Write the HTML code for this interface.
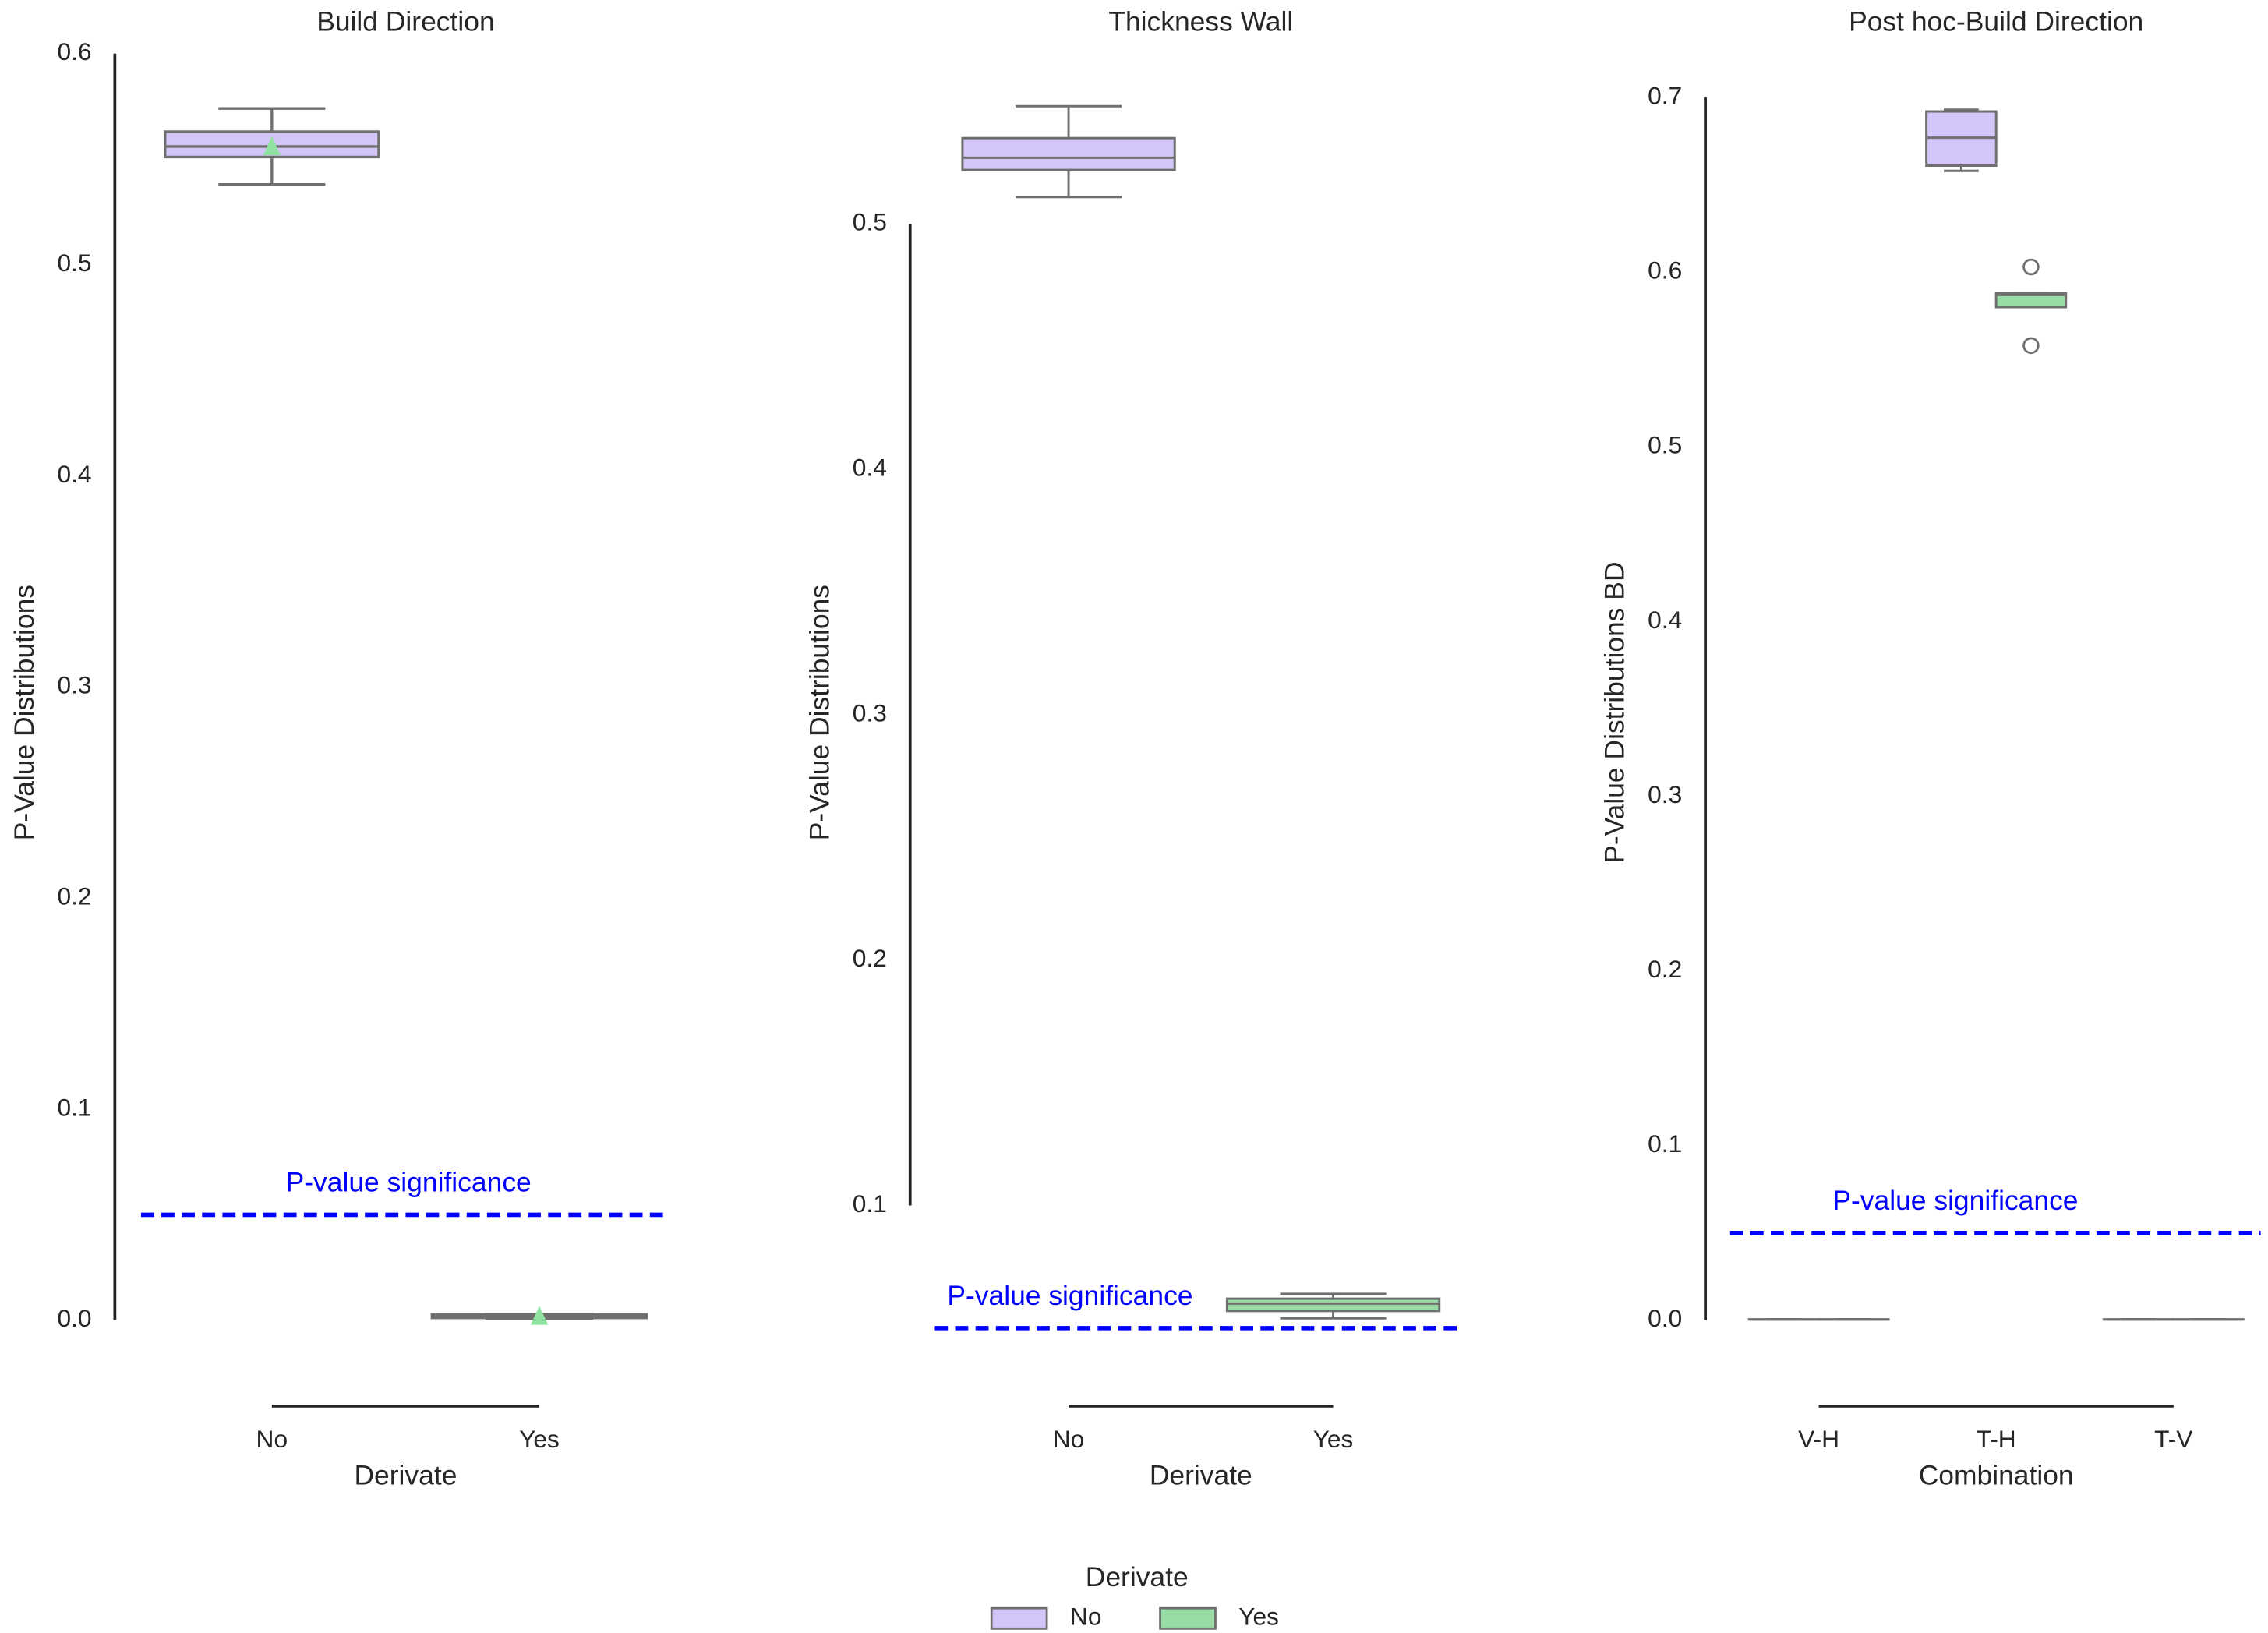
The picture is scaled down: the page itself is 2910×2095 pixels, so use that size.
<!DOCTYPE html>
<html><head><meta charset="utf-8"><style>
html,body{margin:0;padding:0;background:#fff;}
svg{display:block;font-family:"Liberation Sans",Arial,sans-serif;}
</style></head><body>
<svg id="chart" width="2910" height="2095" viewBox="0 0 1560 1123" xmlns="http://www.w3.org/2000/svg"></svg>
<script>
// ---- data ----
const panelTitles = ["Build Direction", "Thickness Wall", "Post hoc-Build Direction"];
const yTitles = ["P-Value Distributions", "P-Value Distributions", "P-Value Distributions BD"];
const xTitles = ["Derivate", "Derivate", "Combination"];
const cats12 = ["No", "Yes"];
const cats3 = ["V-H", "T-H", "T-V"];
const ticks1 = [0.0, 0.1, 0.2, 0.3, 0.4, 0.5, 0.6];
const ticks2 = [0.1, 0.2, 0.3, 0.4, 0.5];
const ticks3 = [0.0, 0.1, 0.2, 0.3, 0.4, 0.5, 0.6, 0.7];
// box stats: [whiskerLow, q1, median, q3, whiskerHigh]
const boxes1 = [[0.538, 0.551, 0.556, 0.563, 0.574], [0.0018, 0.0014, 0.0018, 0.0024, 0.0018]];
const means1 = [0.556, 0.002];
const boxes2 = [[0.511, 0.522, 0.527, 0.535, 0.548], [0.054, 0.057, 0.060, 0.062, 0.064]];
// panel 3: per category, hue No / Yes
const boxes3No = [[0.0005, 0.0005, 0.0005, 0.0005, 0.0005], [0.658, 0.661, 0.677, 0.692, 0.693], [0.0005, 0.0005, 0.0005, 0.0005, 0.0005]];
const boxes3Yes = [[0.0005, 0.0005, 0.0005, 0.0005, 0.0005], [0.580, 0.580, 0.587, 0.588, 0.588], [0.0005, 0.0005, 0.0005, 0.0005, 0.0005]];
const outliers3 = [[1, 0.603], [1, 0.558]];
const sigLevel = 0.05;
const hues = ["No", "Yes"];

const NS = "http://www.w3.org/2000/svg";
const svg = document.getElementById("chart");
const PURPLE = "#d3c5f7", GREEN = "#98dba5", GRAY = "#6f6f6f", TXT = "#262626";
function el(tag, attrs, parent) {
  const e = document.createElementNS(NS, tag);
  for (const k in attrs) e.setAttribute(k, attrs[k]);
  (parent || svg).appendChild(e);
  return e;
}
function txt(s, x, y, size, anchor, fill, rot) {
  const t = el("text", {x: x, y: y, "font-size": size, "text-anchor": anchor || "middle", fill: fill || TXT, "dominant-baseline": "middle"});
  if (rot) t.setAttribute("transform", "rotate(-90 " + x + " " + y + ")");
  t.textContent = s;
  return t;
}
function drawBox(g, cx, w, st, ys, fill, name, sw) {
  sw = sw || 1.6;
  const grp = el("g", {}, g);
  
  
  const [lo, q1, md, q3, hi] = st.map(ys);
  el("line", {x1: cx, x2: cx, y1: hi, y2: q3, stroke: GRAY, "stroke-width": sw}, grp);
  el("line", {x1: cx, x2: cx, y1: q1, y2: lo, stroke: GRAY, "stroke-width": sw}, grp);
  el("line", {x1: cx - w / 4, x2: cx + w / 4, y1: hi, y2: hi, stroke: GRAY, "stroke-width": sw}, grp);
  el("line", {x1: cx - w / 4, x2: cx + w / 4, y1: lo, y2: lo, stroke: GRAY, "stroke-width": sw}, grp);
  el("rect", {x: cx - w / 2, y: q3, width: w, height: Math.max(q1 - q3, 0.01), fill: fill, stroke: GRAY, "stroke-width": sw}, grp);
  el("line", {x1: cx - w / 2, x2: cx + w / 2, y1: md, y2: md, stroke: GRAY, "stroke-width": sw}, grp);
  return grp;
}
function panel(i, cfg) {
  const g = el("g", {});
  
  
  const ys = v => cfg.y0 - (v - cfg.v0) * cfg.k;
  const xs = j => cfg.xFirst + j * cfg.step;
  const ax = el("line", {x1: cfg.ax, x2: cfg.ax, y1: ys(cfg.ticks[cfg.ticks.length - 1]), y2: ys(cfg.ticks[0]), stroke: "#222", "stroke-width": 2}, g);
  
  
  cfg.ticks.forEach(t => {
    const tl = txt(t.toFixed(1), cfg.ax - 16, ys(t), 17, "end");
    
    
  });
  const xa = el("line", {x1: xs(0), x2: xs(cfg.cats.length - 1), y1: 967, y2: 967, stroke: "#222", "stroke-width": 2}, g);
  
  
  cfg.cats.forEach((c, j) => {
    const tl = txt(c, xs(j), 991, 17);
    
    
  });
  const xt = txt(xTitles[i], cfg.titleX, 1016, 19);
  
  
  const yt = txt(yTitles[i], cfg.yTitleX, 490, 19, "middle", TXT, true);
  
  
  const pt = txt(panelTitles[i], cfg.titleX, 16, 19);
  
  
  const sl = el("line", {x1: cfg.sig[0], x2: cfg.sig[1], y1: ys(sigLevel), y2: ys(sigLevel), stroke: "#0000ff", "stroke-width": 3, "stroke-dasharray": "9 5"}, g);
  
  
  const st = txt("P-value significance", cfg.sigTextX, ys(sigLevel) - 21, 19, "middle", "#0000ff");
  
  
  return {g, xs, ys};
}

// Panel 1
{
  const p = panel(0, {ax: 79, y0: 908, v0: 0, k: 1452, ticks: ticks1, cats: cats12, xFirst: 187, step: 184, titleX: 279, yTitleX: 18, sig: [97, 460], sigTextX: 281});
  boxes1.forEach((b, j) => {
    drawBox(p.g, p.xs(j), 147, b, p.ys, PURPLE, 'box-' + cats12[j].toLowerCase(), j === 1 ? 2.5 : 1.8);
  });
  // thick whisker/cap overlap on flat Yes box
  const cap = el("line", {x1: p.xs(1) - 37, x2: p.xs(1) + 37, y1: p.ys(boxes1[1][2]), y2: p.ys(boxes1[1][2]), stroke: GRAY, "stroke-width": 4.5}, p.g);
  
  
  means1.forEach((m, j) => {
    const cx = p.xs(j), cy = p.ys(m);
    const tri = el("polygon", {points: (cx - 6) + "," + (cy + 6) + " " + (cx + 6) + "," + (cy + 6) + " " + cx + "," + (cy - 7), fill: "#8fe3a0"}, p.g);
    
    
  });
}
// Panel 2
{
  const p = panel(1, {ax: 626, y0: 829, v0: 0.1, k: 1687.5, ticks: ticks2, cats: cats12, xFirst: 735, step: 182, titleX: 826, yTitleX: 565, sig: [643, 1007], sigTextX: 736});
  const fills = [PURPLE, GREEN];
  boxes2.forEach((b, j) => drawBox(p.g, p.xs(j), 146, b, p.ys, fills[j], 'box-' + cats12[j].toLowerCase()));
}
// Panel 3
{
  const p = panel(2, {ax: 1173, y0: 908, v0: 0, k: 1201.4, ticks: ticks3, cats: cats3, xFirst: 1251, step: 122, titleX: 1373, yTitleX: 1112, sig: [1190, 1555], sigTextX: 1345});
  cats3.forEach((c, j) => {
    drawBox(p.g, p.xs(j) - 24, 48, boxes3No[j], p.ys, PURPLE, 'box-' + c.toLowerCase() + '-no');
    drawBox(p.g, p.xs(j) + 24, 48, boxes3Yes[j], p.ys, GREEN, 'box-' + c.toLowerCase() + '-yes');
  });
  outliers3.forEach(o => {
    const c = el("circle", {cx: p.xs(o[0]) + 24, cy: p.ys(o[1]), r: 5, fill: "none", stroke: GRAY, "stroke-width": 1.5}, p.g);
    
    
  });
}
// Legend
{
  const lg = el("g", {});
  
  
  const lt = txt("Derivate", 782, 1086, 19);
  
  
  const fills = [PURPLE, GREEN];
  hues.forEach((h, j) => {
    const x = 682 + j * 116;
    const e = el("g", {}, lg);
    
    
    el("rect", {x: x, y: 1106, width: 38, height: 14, fill: fills[j], stroke: GRAY, "stroke-width": 1.5}, e);
    const t = txt(h, x + 54, 1113, 17, "start");
    e.appendChild(t);
  });
}
</script>
</body></html>
